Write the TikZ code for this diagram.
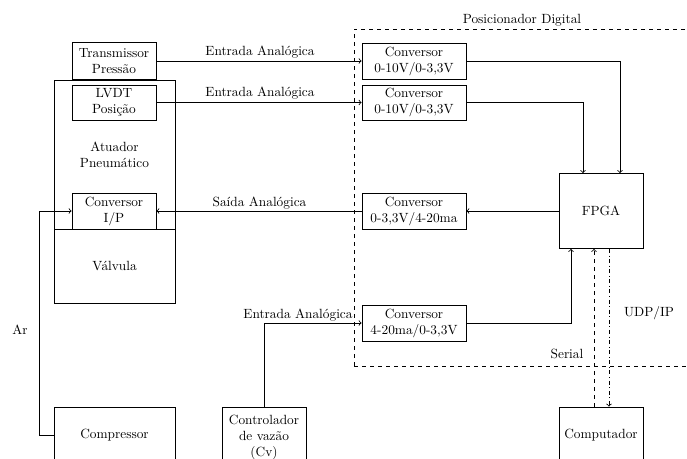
\documentclass[tikz,border=0pt]{standalone}
\usetikzlibrary{calc}
\begin{document}
\begin{tikzpicture}[x=0.75pt,y=-0.75pt,
  every path/.style={line width=0.6pt},
  blk/.style={draw,rectangle,align=center,inner sep=1pt},
  lbl/.style={inner sep=0pt,align=center},
  arr/.style={->,>=to},
  ]
\useasboundingbox (0,0) rectangle (687,459);
% dashed digital positioner region
\draw[dashed] (354,366) -- (354,29) -- (700,29);
\draw[dashed] (354,366) -- (700,366);
\node[lbl] (posdig) at (522,20) {Posicionador Digital};
% left column
\node[blk,minimum width=121*0.75pt,minimum height=149*0.75pt] (atu) at (114.5,154.5) {Atuador\\Pneum\'atico};
\node[blk,minimum width=121*0.75pt,minimum height=74*0.75pt] (valv) at (114.5,266) {V\'alvula};
\node[blk,minimum width=84*0.75pt,minimum height=37*0.75pt,fill=white] (trans) at (114,61) {Transmissor\\Press\~ao};
\node[blk,minimum width=84*0.75pt,minimum height=35*0.75pt] (lvdt) at (114,102.5) {LVDT\\Posi\c{c}\~ao};
\node[blk,minimum width=84*0.75pt,minimum height=36*0.75pt] (convip) at (114,211) {Conversor\\I/P};
\node[blk,minimum width=121*0.75pt,minimum height=56*0.75pt] (comp) at (114.5,435) {Compressor};
\node[blk,minimum width=84*0.75pt,minimum height=60*0.75pt] (ctrl) at (264,437) {Controlador\\de vaz\~ao\\(Cv)};
% converters
\node[blk,minimum width=104*0.75pt,minimum height=36*0.75pt] (c1) at (414,61) {Conversor\\0-10V/0-3,3V};
\node[blk,minimum width=104*0.75pt,minimum height=35*0.75pt] (c2) at (414,102.5) {Conversor\\0-10V/0-3,3V};
\node[blk,minimum width=104*0.75pt,minimum height=36*0.75pt] (c3) at (414,211) {Conversor\\0-3,3V/4-20ma};
\node[blk,minimum width=104*0.75pt,minimum height=36*0.75pt] (c4) at (414,323) {Conversor\\4-20ma/0-3,3V};
\node[blk,minimum width=84*0.75pt,minimum height=75*0.75pt] (fpga) at (601,211) {FPGA};
\node[blk,minimum width=84*0.75pt,minimum height=56*0.75pt] (pc) at (601,435) {Computador};
% connectors
\draw[arr] (trans.east) -- (c1.west);
\draw[arr] (lvdt.east) -- (c2.west);
\draw[arr] (c3.west) -- (convip.east);
\draw[arr] (c1.east) -| ([xshift=14.25pt]fpga.north);
\draw[arr] (c2.east) -| ([xshift=-13.5pt]fpga.north);
\draw[arr] (fpga.west) -- (c3.east);
\draw[arr] (c4.east) -| ([xshift=-22.5pt]fpga.south);
\draw[arr] (ctrl.north) |- (c4.west);
\draw[arr] (comp.west) -- ++(-14,0) |- (convip.west);
\draw[arr,dashed] ([xshift=-5.25pt]pc.north) -- ([xshift=-5.25pt]fpga.south);
\draw[arr,dash dot] ([xshift=6pt]fpga.south) -- ([xshift=6pt]pc.north);
% labels
\node[lbl] (l1) at (260,52) {Entrada Anal\'ogica};
\node[lbl] (l2) at (260,93) {Entrada Anal\'ogica};
\node[lbl] (l3) at (259.5,203) {Sa\'ida Anal\'ogica};
\node[lbl] (l4) at (298,315) {Entrada Anal\'ogica};
\node[lbl] (ar) at (20,330) {Ar};
\node[lbl] (udp) at (649,313) {UDP/IP};
\node[lbl] (ser) at (567,354) {Serial};
\end{tikzpicture}
\end{document}
